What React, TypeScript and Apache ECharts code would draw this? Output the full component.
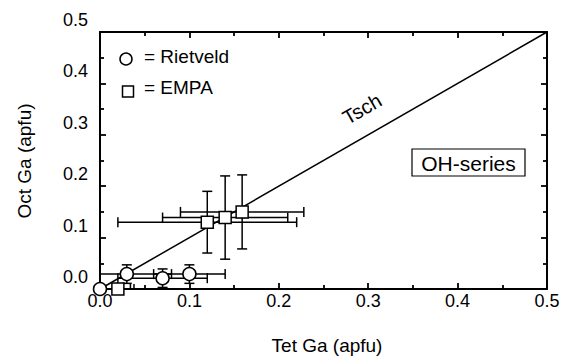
import React, { useEffect, useRef } from "react";
import * as echarts from "echarts";

const rietX = [0.0, 0.03, 0.07, 0.1];
const rietY = [0.0, 0.029, 0.021, 0.029];
const rietXErr = [0.034, 0.05, 0.05, 0.04];
const rietYErr = [0, 0.018, 0.018, 0.018];

const empaX = [0.02, 0.12, 0.14, 0.159];
const empaY = [0.0, 0.13, 0.139, 0.15];
const empaXErr = [0.018, 0.1, 0.07, 0.069];
const empaYErr = [0, 0.06, 0.081, 0.072];

const lineX = [0, 0.5];
const lineY = [0, 0.5];

const xTitle = "Tet Ga (apfu)";
const yTitle = "Oct Ga (apfu)";
const FONT = "Liberation Sans, Arial, Helvetica, sans-serif";

function errorRender(params: any, api: any) {
  const x = api.value(0);
  const y = api.value(1);
  const ex = api.value(2);
  const ey = api.value(3);
  const cap = 5;
  const style = { stroke: "#000", lineWidth: 1.5, fill: null };
  const children: any[] = [];
  if (ex > 0) {
    const l = api.coord([x - ex, y]);
    const r = api.coord([x + ex, y]);
    children.push({ type: "line", shape: { x1: l[0], y1: l[1], x2: r[0], y2: r[1] }, style });
    children.push({ type: "line", shape: { x1: l[0], y1: l[1] - cap, x2: l[0], y2: l[1] + cap }, style });
    children.push({ type: "line", shape: { x1: r[0], y1: r[1] - cap, x2: r[0], y2: r[1] + cap }, style });
  }
  if (ey > 0) {
    const t = api.coord([x, y + ey]);
    const b = api.coord([x, y - ey]);
    children.push({ type: "line", shape: { x1: t[0], y1: t[1], x2: b[0], y2: b[1] }, style });
    children.push({ type: "line", shape: { x1: t[0] - cap, y1: t[1], x2: t[0] + cap, y2: t[1] }, style });
    children.push({ type: "line", shape: { x1: b[0] - cap, y1: b[1], x2: b[0] + cap, y2: b[1] }, style });
  }
  return { type: "group", children };
}

export default function App() {
  const ref = useRef<HTMLDivElement>(null);
  useEffect(() => {
    if (!ref.current) return;
    const chart = echarts.init(ref.current, undefined, { renderer: "svg" });
    const axisCommon = {
      type: "value",
      min: 0,
      max: 0.5,
      interval: 0.1,
      axisLine: { show: true, onZero: false, lineStyle: { color: "#000", width: 2 } },
      axisTick: { show: true, inside: true, length: 6, lineStyle: { color: "#000", width: 1.8 } },
      minorTick: { show: true, splitNumber: 2, length: 4, lineStyle: { color: "#000", width: 1.8 } },
      splitLine: { show: false },
    };
    const rietData = rietX.map((v, i) => [v, rietY[i], rietXErr[i], rietYErr[i]]);
    const empaData = empaX.map((v, i) => [v, empaY[i], empaXErr[i], empaYErr[i]]);
    chart.setOption({
      animation: false,
      grid: { left: 100, right: 16, top: 32, bottom: 72, containLabel: false },
      xAxis: [
        {
          ...axisCommon,
          position: "bottom",
          axisLabel: {
            show: true,
            margin: 3,
            color: "#000",
            fontSize: 18,
            fontFamily: FONT,
            formatter: (v: number) => v.toFixed(1),
          },
        },
        { ...axisCommon, position: "top", axisLabel: { show: false } },
      ],
      yAxis: [
        {
          ...axisCommon,
          position: "left",
          axisLabel: {
            show: true,
            margin: 12,
            color: "#000",
            fontSize: 18,
            fontFamily: FONT,
            verticalAlign: "bottom",
            lineHeight: 24,
            formatter: (v: number) => v.toFixed(1),
          },
        },
        { ...axisCommon, position: "right", axisLabel: { show: false } },
      ],
      series: [
        {
          type: "line",
          data: lineX.map((v, i) => [v, lineY[i]]),
          showSymbol: false,
          symbol: "none",
          lineStyle: { color: "#000", width: 1.5 },
          z: 1,
        },
        {
          type: "custom",
          renderItem: errorRender,
          data: rietData,
          clip: true,
          z: 2,
        },
        {
          type: "custom",
          renderItem: errorRender,
          data: empaData,
          clip: true,
          z: 2,
        },
        {
          type: "scatter",
          data: rietData.map((d) => [d[0], d[1]]),
          symbol: "circle",
          symbolSize: 13,
          itemStyle: { color: "#fff", borderColor: "#000", borderWidth: 1.5, opacity: 1 },
          clip: false,
          z: 3,
        },
        {
          type: "scatter",
          data: empaData.map((d) => [d[0], d[1]]),
          symbol: "rect",
          symbolSize: 12,
          itemStyle: { color: "#fff", borderColor: "#000", borderWidth: 1.5, opacity: 1 },
          clip: false,
          z: 3,
        },
      ],
      graphic: [
        {
          type: "circle",
          shape: { cx: 126, cy: 59, r: 6 },
          style: { fill: "#fff", stroke: "#000", lineWidth: 1.5 },
        },
        {
          type: "text",
          x: 144,
          y: 56,
          style: { text: "= Rietveld", font: `19px ${FONT}`, fill: "#000", verticalAlign: "middle", align: "left" },
        },
        {
          type: "rect",
          shape: { x: 122.5, y: 86, width: 11, height: 11 },
          style: { fill: "#fff", stroke: "#000", lineWidth: 1.5 },
        },
        {
          type: "text",
          x: 144,
          y: 87,
          style: { text: "= EMPA", font: `19px ${FONT}`, fill: "#000", verticalAlign: "middle", align: "left" },
        },
        {
          type: "text",
          x: 362,
          y: 109,
          rotation: (30 * Math.PI) / 180,
          style: { text: "Tsch", font: `20px ${FONT}`, fill: "#000", verticalAlign: "middle", align: "center" },
        },
        {
          type: "rect",
          shape: { x: 412, y: 149, width: 113, height: 27 },
          style: { fill: "#fff", stroke: "#000", lineWidth: 1.2 },
        },
        {
          type: "text",
          x: 468.5,
          y: 163,
          style: { text: "OH-series", font: `21px ${FONT}`, fill: "#000", verticalAlign: "middle", align: "center" },
        },
        {
          type: "text",
          x: 327,
          y: 345,
          style: { text: xTitle, font: `19px ${FONT}`, fill: "#000", verticalAlign: "middle", align: "center" },
        },
        {
          type: "text",
          x: 24,
          y: 161,
          rotation: Math.PI / 2,
          style: { text: yTitle, font: `19px ${FONT}`, fill: "#000", verticalAlign: "middle", align: "center" },
        },
      ],
    });
    return () => chart.dispose();
  }, []);
  return (
    <div
      ref={ref}
      style={{ position: "fixed", left: 0, top: 0, width: 563, height: 361, background: "#fff" }}
    />
  );
}
